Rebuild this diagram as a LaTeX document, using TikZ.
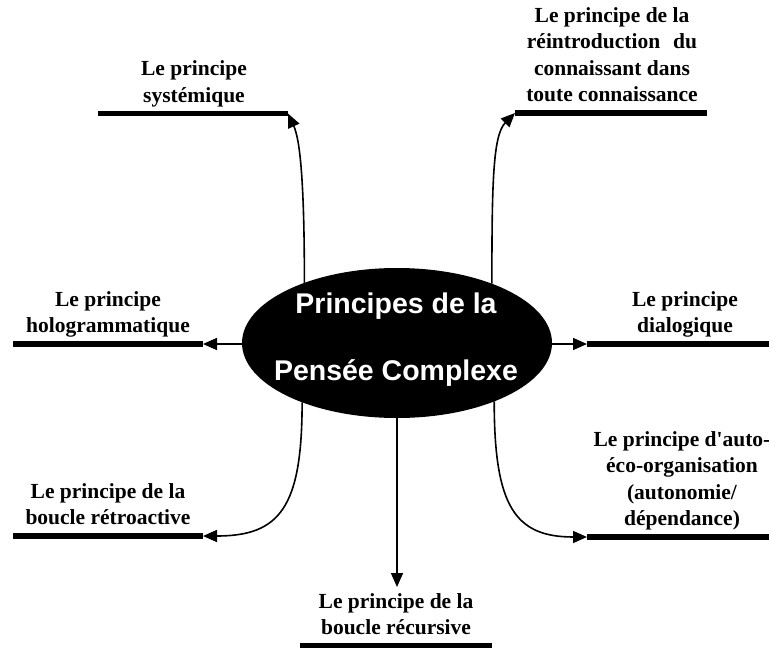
\documentclass[tikz,border=0pt]{standalone}
\usepackage{fontspec}
\setmainfont{Liberation Serif}
\newfontfamily\titlefont{Liberation Sans}
\usetikzlibrary{arrows.meta,shapes.geometric}
\begin{document}
\begin{tikzpicture}[x=1pt,y=-1pt,
  conn/.style={line width=1.6pt, -{Triangle[length=14pt,width=12pt]}},
  bar/.style={line width=5.5pt},
  lab/.style={font=\bfseries\fontsize{21.5}{26.5}\selectfont, align=center, anchor=south, inner sep=0pt, yshift=3pt},
  ttl/.style={font=\titlefont\bfseries\fontsize{28.5}{34}\selectfont, text=white, anchor=base, inner sep=0pt}]
\useasboundingbox (0,0) rectangle (769,648);

% central ellipse
\node[ellipse, fill=black, minimum width=310pt, minimum height=150pt, inner sep=0pt, outer sep=0pt] (c) at (397,343) {};
\node[ttl] (t1) at (396,313) {Principes de la};
\node[ttl] (t2) at (396,380) {Pensée Complexe};

% underline bars
\coordinate (sysL) at (98,113.5);  \coordinate (sysR) at (288,113.5);
\coordinate (reiL) at (515,113);   \coordinate (reiR) at (707,113);
\coordinate (holoL) at (13,344);   \coordinate (holoR) at (203,344);
\coordinate (retL) at (13,536);    \coordinate (retR) at (203,536);
\coordinate (diaL) at (587,344);   \coordinate (diaR) at (769,344);
\coordinate (autL) at (587,537);   \coordinate (autR) at (769,537);
\coordinate (recL) at (300,646);   \coordinate (recR) at (492,646);
\coordinate (recTip) at (397,587);

\draw[bar] (sysL) -- (sysR);
\draw[bar] (reiL) -- (reiR);
\draw[bar] (holoL) -- (holoR);
\draw[bar] (retL) -- (retR);
\draw[bar] (diaL) -- (diaR);
\draw[bar] (autL) -- (autR);
\draw[bar] (recL) -- (recR);

% labels
\node[lab] (sysT) at (194,113.5) {Le principe\\systémique\strut};
\node[lab] (reiT) at (612,113) {Le principe de la\\réintroduction\hspace{0.35em} du\\connaissant dans\\toute connaissance\strut};
\node[lab] (holoT) at (108,344) {Le principe\\hologrammatique\strut};
\node[lab] (retT) at (108,536) {Le principe de la\\boucle rétroactive\strut};
\node[lab] (diaT) at (685,344) {Le principe\\dialogique\strut};
\node[lab] (autT) at (682,537) {Le principe d\textquotesingle auto-\\éco-organisation\\(autonomie/\\dépendance)\strut};
\node[lab] (recT) at (396,646) {Le principe de la\\boucle récursive\strut};

% connectors
\draw[conn] (c.147.6) .. controls +(0,-102) and +(12,26) .. (sysR);
\draw[conn] (c.32) .. controls +(0,-102) and +(-22,22) .. (reiL);
\draw[conn] (c.180 |- holoR) -- (holoR);
\draw[conn] (c.0 |- diaL) -- (diaL);
\draw[conn] (c.212) .. controls +(0,105) and +(77,0) .. (retR);
\draw[conn] (c.-31.5) .. controls +(0,105) and +(-72,0) .. (autL);
\draw[conn] (c.south) -- (recTip);
\end{tikzpicture}
\end{document}
